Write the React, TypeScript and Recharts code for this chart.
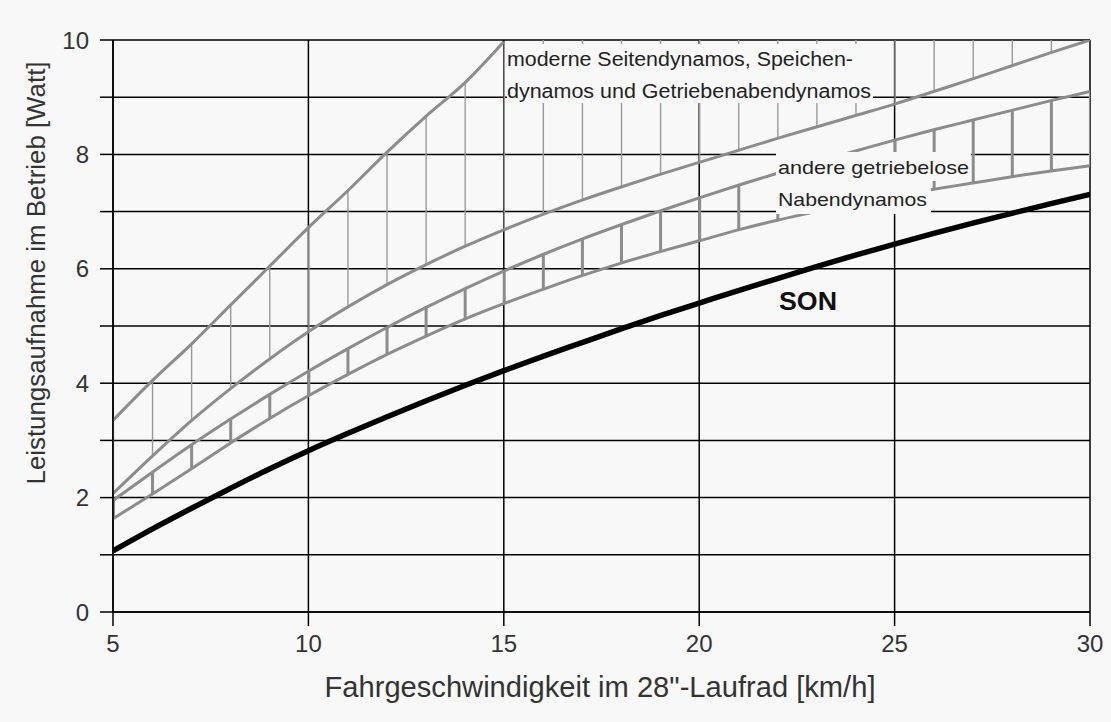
import React from 'react';
import { ComposedChart, Line, Bar, XAxis, YAxis, CartesianGrid } from 'recharts';

// Fahrgeschwindigkeit [km/h]
const speeds = [5, 6, 7, 8, 9, 10, 11, 12, 13, 14, 15, 16, 17, 18, 19, 20, 21, 22, 23, 24, 25, 26, 27, 28, 29, 30];

// moderne Seitendynamos etc. - upper edge (leaves the chart at ~15 km/h)
const moderneMax = [3.35, 4.04, 4.68, 5.36, 6.04, 6.72, 7.36, 8.03, 8.66, 9.25, 9.97];
// moderne Seitendynamos etc. - lower edge
const moderneMin = [2.07, 2.72, 3.34, 3.9, 4.42, 4.9, 5.33, 5.72, 6.07, 6.39, 6.68, 6.95, 7.2, 7.43, 7.65, 7.86, 8.07, 8.28, 8.48, 8.68, 8.88, 9.1, 9.32, 9.55, 9.78, 10.0];
// andere getriebelose Nabendynamos - upper / lower edge
const andereMax = [1.95, 2.44, 2.92, 3.37, 3.8, 4.21, 4.6, 4.97, 5.32, 5.65, 5.96, 6.25, 6.52, 6.77, 7.01, 7.24, 7.46, 7.67, 7.87, 8.06, 8.25, 8.43, 8.6, 8.77, 8.94, 9.1];
const andereMin = [1.63, 2.06, 2.5, 2.95, 3.38, 3.78, 4.15, 4.5, 4.82, 5.12, 5.39, 5.64, 5.88, 6.1, 6.3, 6.49, 6.68, 6.85, 7.0, 7.14, 7.27, 7.39, 7.5, 7.61, 7.71, 7.8];
// SON
const son = [1.07, 1.45, 1.81, 2.16, 2.5, 2.82, 3.12, 3.41, 3.69, 3.96, 4.22, 4.47, 4.71, 4.95, 5.18, 5.4, 5.62, 5.83, 6.04, 6.24, 6.43, 6.62, 6.8, 6.97, 7.14, 7.3];

const xTicks = [5, 10, 15, 20, 25, 30];
const yTicks = [0, 1, 2, 3, 4, 5, 6, 7, 8, 9, 10];
const Y_MAX = 10;

const data = speeds.map((speed, i) => {
  const top = i < moderneMax.length ? moderneMax[i] : Y_MAX;
  return {
    speed,
    moderneMax: i < moderneMax.length ? moderneMax[i] : null,
    moderneMin: moderneMin[i],
    andereMax: andereMax[i],
    andereMin: andereMin[i],
    son: son[i],
    hatchModerne: [moderneMin[i], Math.min(top, Y_MAX)],
    hatchAndere: [andereMin[i], andereMax[i]],
  };
});

const BG = '#f8f8f8';
const GRAY = '#8c8c8c';
const FONT = '"Liberation Sans", Arial, sans-serif';

// vertical hatch line drawn in the middle of a range bar
const hatch = (strokeWidth: number, color: string) => (props: any) => {
  const { x, y, width, height } = props;
  if (x == null || y == null || !height) return <g />;
  const cx = x + width / 2;
  return <line x1={cx} x2={cx} y1={y} y2={y + height} stroke={color} strokeWidth={strokeWidth} />;
};

const axisStyle = { stroke: '#000', strokeWidth: 1.5 };
const tickStyle = { fontSize: 24, fill: '#333', fontFamily: FONT };

export default function App() {
  return (
    <div style={{ position: 'absolute', left: 0, top: 0, width: 1111, height: 722, background: BG, fontFamily: FONT }}>
      <ComposedChart width={1111} height={722} data={data} margin={{ top: 40, right: 21, bottom: 50, left: 53 }}>
        <CartesianGrid stroke="#000" strokeWidth={1.5} />
        <XAxis
          dataKey="speed"
          type="number"
          domain={[5, 30]}
          ticks={xTicks}
          interval={0}
          allowDataOverflow
          height={60}
          tickSize={14}
          tickMargin={9}
          tick={tickStyle}
          axisLine={axisStyle}
          tickLine={axisStyle}
        />
        <XAxis xAxisId="h" dataKey="speed" type="number" domain={[5, 30]} allowDataOverflow hide />
        <YAxis
          type="number"
          domain={[0, Y_MAX]}
          ticks={yTicks}
          interval={0}
          allowDataOverflow
          width={60}
          tickSize={13}
          tickMargin={11}
          tick={tickStyle}
          tickFormatter={(v: number) => (v % 2 === 0 ? String(v) : '')}
          axisLine={axisStyle}
          tickLine={axisStyle}
        />
        <Bar dataKey="hatchModerne" barSize={4} shape={hatch(1.4, '#999')} isAnimationActive={false} />
        <Bar dataKey="hatchAndere" xAxisId="h" barSize={4} shape={hatch(3, GRAY)} isAnimationActive={false} />
        <Line type="monotone" dataKey="moderneMax" stroke={GRAY} strokeWidth={3} dot={false} isAnimationActive={false} />
        <Line type="monotone" dataKey="moderneMin" stroke={GRAY} strokeWidth={3} dot={false} isAnimationActive={false} />
        <Line type="monotone" dataKey="andereMax" stroke={GRAY} strokeWidth={3} dot={false} isAnimationActive={false} />
        <Line type="monotone" dataKey="andereMin" stroke={GRAY} strokeWidth={3} dot={false} isAnimationActive={false} />
        <Line type="monotone" dataKey="son" stroke="#000" strokeWidth={5.5} dot={false} isAnimationActive={false} />
      </ComposedChart>
      <svg width={1111} height={722} style={{ position: 'absolute', left: 0, top: 0, pointerEvents: 'none' }}>
        <g fontFamily={FONT} fill="#222">
          <rect x={507} y={44} width={350} height={30} fill={BG} />
          <rect x={507} y={74} width={366} height={29} fill={BG} />
          <text x={507} y={66} fontSize={20} textLength={346} lengthAdjust="spacingAndGlyphs">moderne Seitendynamos, Speichen-</text>
          <text x={507} y={98} fontSize={20} textLength={364} lengthAdjust="spacingAndGlyphs">dynamos und Getriebenabendynamos</text>
          <rect x={776} y={152} width={195} height={29} fill={BG} />
          <rect x={776} y={181} width={155} height={33} fill={BG} />
          <text x={778} y={174} fontSize={19} textLength={191} lengthAdjust="spacingAndGlyphs">andere getriebelose</text>
          <text x={778} y={206} fontSize={19} textLength={149} lengthAdjust="spacingAndGlyphs">Nabendynamos</text>
          <text x={779} y={310} fontSize={25} fontWeight="bold" fill="#111" textLength={58} lengthAdjust="spacingAndGlyphs">SON</text>
        </g>
        <g fontFamily={FONT} fill="#333">
          <text x={600} y={697} fontSize={29} textAnchor="middle" textLength={551} lengthAdjust="spacingAndGlyphs">Fahrgeschwindigkeit im 28"-Laufrad [km/h]</text>
          <text transform="translate(45,273) rotate(-90)" fontSize={26} textAnchor="middle" textLength={423} lengthAdjust="spacingAndGlyphs">Leistungsaufnahme im Betrieb [Watt]</text>
        </g>
      </svg>
    </div>
  );
}
